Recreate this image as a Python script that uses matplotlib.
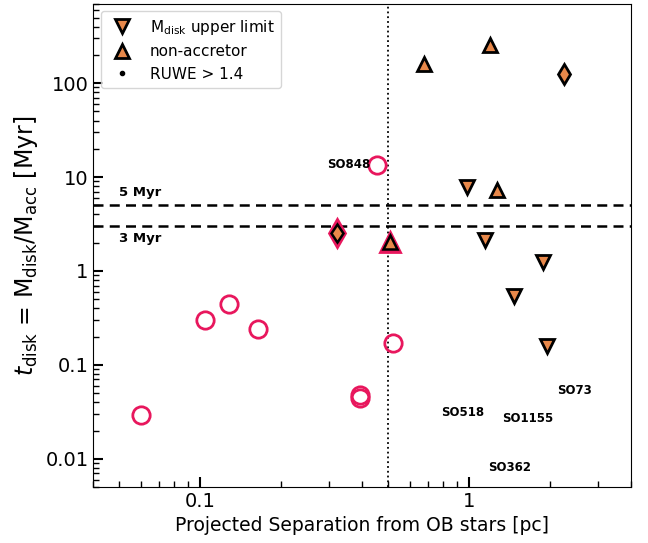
import matplotlib
matplotlib.use("Agg")
import matplotlib.pyplot as plt
from matplotlib.lines import Line2D

# accretors (open circles)
circ_x = [0.060, 0.104, 0.128, 0.164, 0.394, 0.394, 0.52, 0.455]
circ_y = [0.029, 0.30, 0.44, 0.24, 0.048, 0.044, 0.172, 13.6]

# upper-limit disk masses (down triangles)
lim_x = [0.98, 1.14, 1.88, 1.47, 1.95]
lim_y = [7.9, 2.15, 1.25, 0.54, 0.158]

# non-accretors (up triangles)
nacc_x = [0.68, 1.19, 1.27]
nacc_y = [160, 255, 7.2]
nacc_pink_x = [0.508]
nacc_pink_y = [2.04]

# RUWE > 1.4 diamonds
dia_x = [2.26]
dia_y = [125]
dia_pink_x = [0.323]
dia_pink_y = [2.55]

labels = ["SO848", "SO73", "SO518", "SO1155", "SO362"]
lab_x = [0.43, 2.12, 0.787, 1.33, 1.18]
lab_y = [13.6, 0.053, 0.031, 0.027, 0.0080]
lab_ha = ["right", "left", "left", "left", "left"]

pink = "#e8175d"
orange = "#e8884a"

fig, ax = plt.subplots(figsize=(6.48, 5.43), dpi=100)
fig.subplots_adjust(left=0.144, right=0.974, top=0.993, bottom=0.103)

ax.set_xscale("log")
ax.set_yscale("log")
ax.set_xlim(0.04, 4)
ax.set_ylim(0.005, 700)

ax.axhline(5, color="k", ls="--", lw=1.8, dashes=(4, 2.5), zorder=1)
ax.axhline(3, color="k", ls="--", lw=1.8, dashes=(4, 2.5), zorder=1)
ax.axvline(0.5, color="k", ls=":", lw=1.3, zorder=1)
ax.text(0.05, 5.8, "5 Myr", fontsize=9.5, fontweight="bold", ha="left", va="bottom")
ax.text(0.05, 2.6, "3 Myr", fontsize=9.5, fontweight="bold", ha="left", va="top")

ax.plot(circ_x, circ_y, "o", ms=12.5, mfc="none", mec=pink, mew=2, ls="none", zorder=3)

ax.plot(dia_pink_x, dia_pink_y, "d", ms=14, mfc=pink, mec=pink, mew=2, ls="none", zorder=3)
ax.plot(dia_pink_x, dia_pink_y, "d", ms=9.5, mfc=orange, mec="k", mew=1.8, ls="none", zorder=4)
ax.plot(nacc_pink_x, nacc_pink_y, "^", ms=14, mfc=pink, mec=pink, mew=2, ls="none", zorder=3)
ax.plot(nacc_pink_x, nacc_pink_y, "^", ms=9.5, mfc=orange, mec="k", mew=1.8, ls="none", zorder=4)

ax.plot(dia_x, dia_y, "d", ms=10.5, mfc=orange, mec="k", mew=2, ls="none", zorder=4)
ax.plot(lim_x, lim_y, "v", ms=10.5, mfc=orange, mec="k", mew=2, ls="none", zorder=4)
ax.plot(nacc_x, nacc_y, "^", ms=10.5, mfc=orange, mec="k", mew=2, ls="none", zorder=4)

for t, x, y, ha in zip(labels, lab_x, lab_y, lab_ha):
    ax.text(x, y, t, fontsize=8.5, fontweight="bold", ha=ha, va="center")

ax.tick_params(which="both", direction="in", top=False, right=False, labelsize=14)
ax.tick_params(which="major", length=7, width=1.5)
ax.tick_params(which="minor", length=4, width=1)
ax.set_yticks([0.01, 0.1, 1, 10, 100])
ax.set_yticklabels(["0.01", "0.1", "1", "10", "100"])
ax.set_xticks([0.1, 1])
ax.set_xticklabels(["0.1", "1"])

ax.set_xlabel("Projected Separation from OB stars [pc]", fontsize=13.5)
ax.set_ylabel(r"$t_{\rm disk}$ = M$_{\rm disk}$/M$_{\rm acc}$ [Myr]", fontsize=17)

handles = [
    Line2D([], [], marker="v", ms=10.5, mfc=orange, mec="k", mew=2, ls="none"),
    Line2D([], [], marker="^", ms=10.5, mfc=orange, mec="k", mew=2, ls="none"),
    Line2D([], [], marker=".", ms=6, color="k", ls="none"),
]
ax.legend(handles, [r"M$_{\rm disk}$ upper limit", "non-accretor", "RUWE > 1.4"],
          loc="upper left", fontsize=11, frameon=True)

fig.savefig("out.png", dpi=100)
